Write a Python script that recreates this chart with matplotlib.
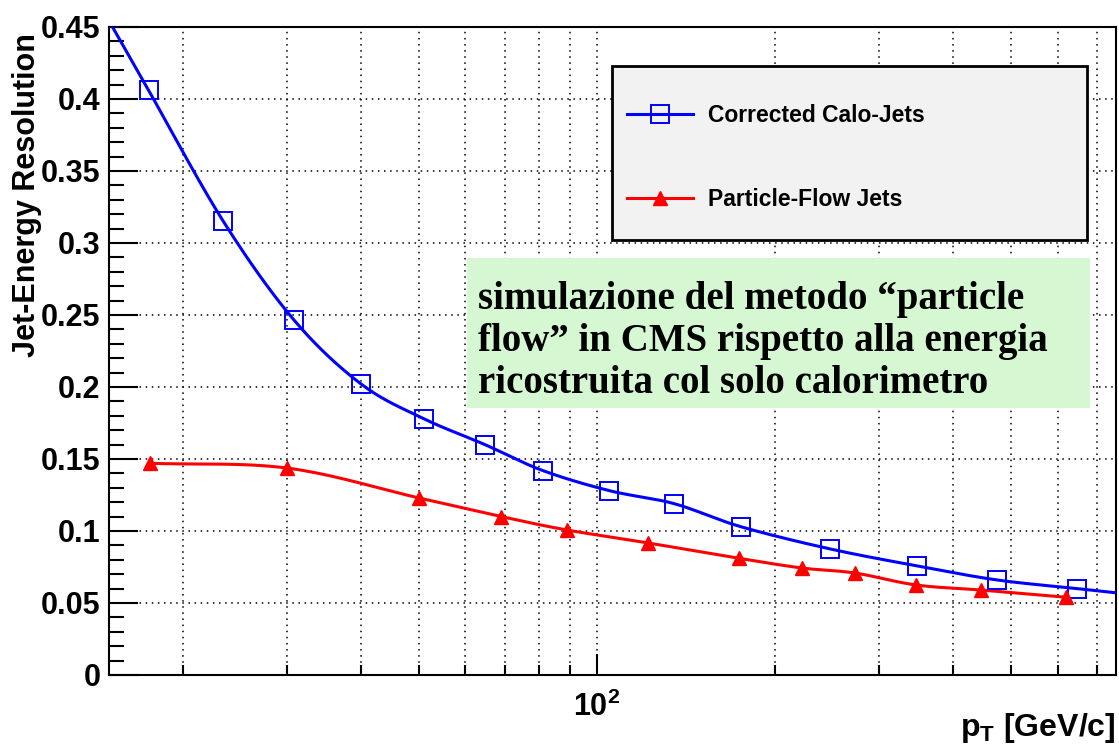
import numpy as np
import matplotlib.pyplot as plt
from matplotlib.patches import Rectangle
from matplotlib.ticker import FixedLocator, NullFormatter, MultipleLocator

plt.rcParams['font.family'] = ['Liberation Sans', 'DejaVu Sans']
plt.rcParams['font.weight'] = 'bold'
plt.rcParams['mathtext.fontset'] = 'custom'
plt.rcParams['mathtext.bf'] = 'Liberation Sans:bold'
plt.rcParams['mathtext.rm'] = 'Liberation Sans:bold'

# data
pt_calo = [17.5, 23.4, 30.8, 40, 51, 64.7, 81, 105, 135, 175, 248, 348, 474, 647]
res_calo = [0.406, 0.315, 0.2465, 0.202, 0.178, 0.160, 0.142, 0.128, 0.119,
            0.103, 0.0875, 0.0757, 0.066, 0.060]

pt_pf = [17.6, 30, 50, 69, 89, 122, 174, 222, 273, 346, 445, 620]
res_pf = [0.147, 0.1437, 0.123, 0.110, 0.1007, 0.0917, 0.081, 0.0743,
          0.0708, 0.0625, 0.059, 0.054]

label_calo = 'Corrected Calo-Jets'
label_pf = 'Particle-Flow Jets'
note = ('simulazione del metodo \u201cparticle\n'
        'flow\u201d in CMS rispetto alla energia\n'
        'ricostruita col solo calorimetro')

xmin, xmax = 15, 753
ymin, ymax = 0, 0.45


def smooth(x, y, n=20, extend=None):
    # catmull-rom curve in (log x, y), like ROOT's "C" draw option
    lx = np.log10(x)
    y = np.asarray(y, float)
    if extend is not None:
        a, b = np.log10(extend[0]), np.log10(extend[1])
        y0 = y[0] + (y[1] - y[0]) / (lx[1] - lx[0]) * (a - lx[0])
        y1 = y[-1] + (y[-1] - y[-2]) / (lx[-1] - lx[-2]) * (b - lx[-1])
        lx = np.concatenate([[a], lx, [b]])
        y = np.concatenate([[y0], y, [y1]])
    px = np.concatenate([[2 * lx[0] - lx[1]], lx, [2 * lx[-1] - lx[-2]]])
    py = np.concatenate([[2 * y[0] - y[1]], y, [2 * y[-1] - y[-2]]])
    xs, ys = [], []
    t = np.linspace(0, 1, n, endpoint=False)
    for i in range(1, len(px) - 2):
        for p, out in ((px, xs), (py, ys)):
            p0, p1, p2, p3 = p[i - 1], p[i], p[i + 1], p[i + 2]
            out.extend(0.5 * (2 * p1 + (-p0 + p2) * t
                              + (2 * p0 - 5 * p1 + 4 * p2 - p3) * t ** 2
                              + (-p0 + 3 * p1 - 3 * p2 + p3) * t ** 3))
    xs.append(lx[-1])
    ys.append(y[-1])
    return 10 ** np.array(xs), np.array(ys)


fig = plt.figure(figsize=(11.19, 7.47), dpi=100)
ax = fig.add_axes([0.0974, 0.0964, 0.8999, 0.8675])

ax.set_xscale('log')
ax.set_xlim(xmin, xmax)
ax.set_ylim(ymin, ymax)

sx, sy = smooth(pt_calo, res_calo, extend=(xmin, xmax))
ax.plot(sx, sy, color='#0000ff', lw=2.2, zorder=3, clip_on=True)
ax.plot(pt_calo, res_calo, ls='none', marker='s', ms=13, mfc='none',
        mec='#0000ff', mew=1.4, zorder=4)

sx, sy = smooth(pt_pf, res_pf)
ax.plot(sx, sy, color='#ff0000', lw=2.2, zorder=3)
ax.plot(pt_pf, res_pf, ls='none', marker='^', ms=10.5, color='#ff0000', zorder=4)

# axes and ticks
ax.xaxis.set_major_locator(FixedLocator([100]))
ax.xaxis.set_minor_locator(FixedLocator([20, 30, 40, 50, 60, 70, 80, 90,
                                         200, 300, 400, 500, 600, 700]))
ax.set_xticklabels([r'$\mathbf{10^{2}}$'])
ax.xaxis.set_minor_formatter(NullFormatter())
ax.yaxis.set_major_locator(MultipleLocator(0.05))
ax.yaxis.set_minor_locator(MultipleLocator(0.01))
ax.set_yticks(np.arange(0, 0.451, 0.05))
ax.set_yticklabels(['0', '0.05', '0.1', '0.15', '0.2', '0.25', '0.3',
                    '0.35', '0.4', '0.45'])
ax.tick_params(axis='y', which='major', direction='in', length=21, width=1.5,
               labelsize=22, pad=6)
ax.tick_params(axis='y', which='minor', direction='in', length=11, width=1.5)
ax.tick_params(axis='x', which='major', direction='in', length=15, width=1.5,
               labelsize=22, pad=12)
ax.tick_params(axis='x', which='minor', direction='in', length=7, width=1.5)
for s in ax.spines.values():
    s.set_linewidth(1.5)

ax.grid(True, which='major', axis='y', color='black', ls=(0, (1, 3)), lw=1.1)
ax.grid(True, which='both', axis='x', color='black', ls=(0, (1, 3)), lw=1.1)
ax.set_axisbelow(True)

ax.set_ylabel('Jet-Energy Resolution', fontsize=22, fontweight='bold')
ax.yaxis.set_label_coords(-0.0665, 0.741)
ax.set_xlabel(r'p$_\mathbf{T}$ [GeV/c]', fontsize=23, fontweight='bold')
ax.xaxis.set_label_coords(1.0, -0.0556)
ax.xaxis.label.set_ha('right')

# legend frame
ax.add_patch(Rectangle((0.4995, 0.671), 0.4717, 0.269, transform=ax.transAxes,
                       facecolor='#f2f2f2', edgecolor='black', lw=2, zorder=5))
h1, = ax.plot([], [], color='#0000ff', lw=2.2, marker='s', ms=13, mfc='none',
              mec='#0000ff', mew=1.4)
h2, = ax.plot([], [], color='#ff0000', lw=2.2, marker='^', ms=10.5)
leg = ax.legend([h1, h2], [label_calo, label_pf], loc='upper left',
                bbox_to_anchor=(0.503, 0.899), frameon=False,
                prop={'weight': 'bold', 'size': 16.5}, handlelength=2.9,
                handletextpad=0.65, labelspacing=2.65, borderpad=0, numpoints=1)
leg.set_zorder(6)

# green annotation box
ax.add_patch(Rectangle((0.3555, 0.412), 0.6186, 0.2315, transform=ax.transAxes,
                       facecolor='#d5f8d3', edgecolor='none', zorder=5))
ax.text(0.3665, 0.514, note, transform=ax.transAxes, ha='left', va='center',
        family=['Liberation Serif', 'DejaVu Serif'], fontweight='bold',
        fontsize=28, linespacing=1.18, zorder=6)

fig.savefig('out.png', dpi=100)
